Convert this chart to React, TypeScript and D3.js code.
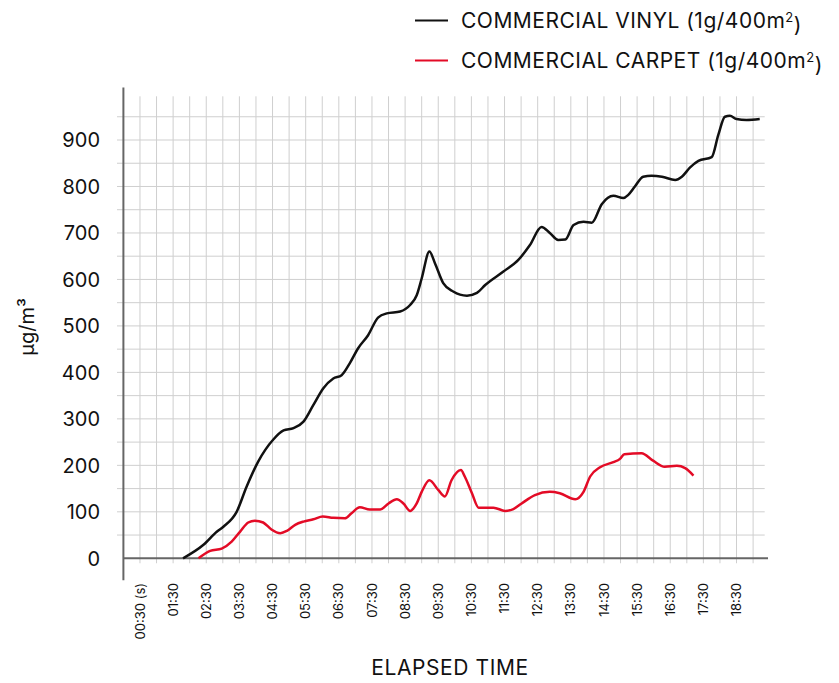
import * as React from 'react';
import * as d3 from 'd3';

// elapsed seconds / µg/m3
const vinylTimes = [108, 145, 169, 181, 205, 223, 244, 271, 290, 308, 326, 344, 362, 380, 395, 410, 425, 443, 461, 477, 501, 519, 531, 540, 554, 564, 579, 597, 622, 640, 655, 688, 715, 736, 757, 772, 787, 800, 815, 833, 848, 866, 887, 905, 914, 926, 941, 956, 975, 999, 1011, 1026, 1041, 1065, 1077, 1089, 1098, 1110, 1128, 1152];
const vinylValues = [0, 29, 57, 68, 100, 154, 208, 255, 275, 280, 294, 330, 366, 387, 394, 420, 452, 480, 518, 527, 531, 545, 566, 602, 660, 635, 592, 574, 565, 571, 588, 617, 642, 674, 713, 700, 685, 686, 717, 724, 722, 762, 780, 775, 782, 800, 821, 823, 821, 814, 821, 841, 855, 863, 911, 950, 952, 945, 943, 945];

const carpetTimes = [136, 157, 178, 196, 211, 226, 238, 253, 268, 284, 296, 311, 326, 344, 361, 380, 401, 413, 428, 446, 465, 480, 495, 507, 519, 531, 540, 554, 570, 582, 594, 611, 618, 631, 643, 670, 691, 706, 721, 745, 772, 790, 818, 833, 845, 863, 887, 899, 907, 938, 959, 980, 1002, 1017, 1032];
const carpetValues = [0, 16, 21, 36, 57, 77, 81, 77, 62, 54, 59, 72, 79, 84, 90, 87, 86, 97, 110, 105, 105, 118, 127, 118, 102, 118, 143, 168, 147, 133, 168, 190, 176, 140, 109, 109, 102, 106, 118, 136, 143, 140, 127, 143, 176, 196, 207, 214, 224, 226, 210, 197, 199, 194, 178];

const yTicks = [0, 100, 200, 300, 400, 500, 600, 700, 800, 900];
const xTickLabels = ['00:30 (s)', '01:30', '02:30', '03:30', '04:30', '05:30', '06:30', '07:30', '08:30', '09:30', '10:30', '11:30', '12:30', '13:30', '14:30', '15:30', '16:30', '17:30', '18:30'];

const seriesNames = ['COMMERCIAL VINYL (1g/400m', 'COMMERCIAL CARPET (1g/400m'];
const seriesColors = ['#111111', '#e30b26'];

const width = 839;
const height = 683;
const font = 'Inter, "Liberation Sans", Arial, sans-serif';

const toSeconds = (label: string) => {
    const [m, s] = label.split(' ')[0].split(':').map(Number);
    return m * 60 + s;
};

class App extends React.Component<object, object> {
    private svgElement: SVGSVGElement | null = null;

    render() {
        return <svg
            ref={node => { this.svgElement = node; }}
            width={width}
            height={height}
            style={{ position: 'absolute', left: 0, top: 0, background: '#fff' }}>
        </svg>;
    }

    componentDidMount() {
        this.drawChart();
    }

    drawChart() {
        const svg = d3.select(this.svgElement);
        svg.selectAll('*').remove();

        const xScale = d3.scaleLinear().domain([0, 1140]).range([123.4, 753.1]);
        const yScale = d3.scaleLinear().domain([0, 900]).range([558.3, 140]);

        // grid
        const grid = svg.append('g').attr('stroke', '#cfcfcf').attr('stroke-width', 1);
        const vLines = d3.range(30, 1141, 30);
        grid.selectAll('line.v')
            .data(vLines)
            .enter()
            .append('line')
            .attr('x1', d => xScale(d))
            .attr('x2', d => xScale(d))
            .attr('y1', yScale(994))
            .attr('y2', yScale(-10.7));
        const hLines = d3.range(50, 951, 50);
        grid.selectAll('line.h')
            .data(hLines)
            .enter()
            .append('line')
            .attr('x1', xScale(-11.6))
            .attr('x2', xScale(1161))
            .attr('y1', d => yScale(d))
            .attr('y2', d => yScale(d));

        // axes lines
        svg.append('line')
            .attr('x1', xScale(0)).attr('x2', xScale(0))
            .attr('y1', yScale(1013)).attr('y2', yScale(-47))
            .attr('stroke', '#666').attr('stroke-width', 2);
        svg.append('line')
            .attr('x1', xScale(0)).attr('x2', xScale(1167))
            .attr('y1', yScale(0)).attr('y2', yScale(0))
            .attr('stroke', '#666').attr('stroke-width', 2);

        // y tick labels
        svg.append('g')
            .selectAll('text')
            .data(yTicks)
            .enter()
            .append('text')
            .attr('x', 100)
            .attr('y', d => yScale(d))
            .attr('dy', '0.36em')
            .attr('text-anchor', 'end')
            .style('font-family', font)
            .style('font-size', '20px')
            .attr('fill', '#111')
            .text(d => String(d));

        // x tick labels
        svg.append('g')
            .selectAll('text')
            .data(xTickLabels)
            .enter()
            .append('text')
            .attr('transform', d => `translate(${xScale(toSeconds(d))},583) rotate(-90)`)
            .attr('dy', '0.35em')
            .attr('text-anchor', 'end')
            .style('font-family', font)
            .style('font-size', '13px')
            .attr('fill', '#111')
            .text(d => d);

        // axis titles
        svg.append('text')
            .attr('transform', 'translate(27,327) rotate(-90)')
            .attr('dy', '0.35em')
            .attr('text-anchor', 'middle')
            .style('font-family', font)
            .style('font-size', '20px')
            .attr('fill', '#111')
            .text('µg/m³');
        svg.append('text')
            .attr('x', 450)
            .attr('y', 668)
            .attr('dy', '0.35em')
            .attr('text-anchor', 'middle')
            .style('font-family', font)
            .style('font-size', '21px')
            .style('letter-spacing', '0.6px')
            .attr('fill', '#111')
            .text('ELAPSED TIME');

        // lines
        const line = d3.line<[number, number]>()
            .x(d => xScale(d[0]))
            .y(d => yScale(d[1]))
            .curve(d3.curveMonotoneX);

        const series: Array<[number, number][]> = [
            vinylTimes.map((t, i) => [t, vinylValues[i]] as [number, number]),
            carpetTimes.map((t, i) => [t, carpetValues[i]] as [number, number]),
        ];

        svg.append('g')
            .selectAll('path')
            .data(series)
            .enter()
            .append('path')
            .attr('d', d => line(d))
            .attr('fill', 'none')
            .attr('stroke', (d, i) => seriesColors[i])
            .attr('stroke-width', 2.5)
            .attr('stroke-linejoin', 'round');

        // legend
        const legend = svg.append('g')
            .selectAll('g')
            .data(seriesNames)
            .enter()
            .append('g')
            .attr('transform', (d, i) => `translate(415,${20.5 + i * 40})`);
        legend.append('line')
            .attr('x1', 0).attr('x2', 33)
            .attr('stroke', (d, i) => seriesColors[i])
            .attr('stroke-width', 2);
        const label = legend.append('text')
            .attr('x', 46)
            .attr('dy', '0.36em')
            .style('font-family', font)
            .style('font-size', '21px')
            .style('letter-spacing', '0.5px')
            .attr('fill', '#111');
        label.append('tspan').text(d => d);
        label.append('tspan')
            .attr('dy', '-0.45em')
            .style('font-size', '13px')
            .text('2');
        label.append('tspan')
            .attr('dy', '0.45em')
            .text(')');
    }
}

export default App;
